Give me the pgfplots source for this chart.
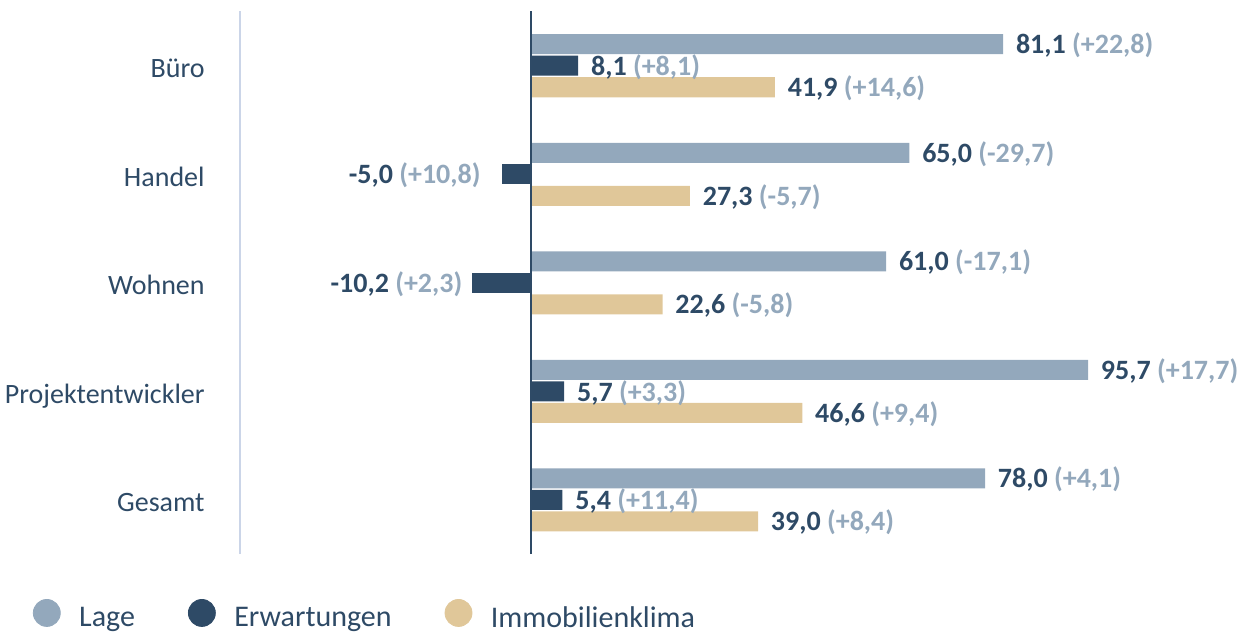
\documentclass[border=0pt]{standalone}
\usepackage{pgfplots}
\pgfplotsset{compat=1.18}
\usepackage{fontspec}
\setmainfont{Carlito}
\definecolor{lageC}{HTML}{93A8BC}
\definecolor{erwC}{HTML}{2E4A66}
\definecolor{immoC}{HTML}{E0C799}
\definecolor{axC}{HTML}{CBD5E8}
\newcommand\lbl[2]{\textbf{#1} {\color{lageC}\textbf{(#2)}}}
\newcommand\fs{\fontsize{14}{16}\selectfont}
\newcommand\fl{\fontsize{15}{17}\selectfont}
\begin{document}
\begin{tikzpicture}[x=1pt,y=1pt]
\useasboundingbox (0,0) rectangle (620,316);
\begin{axis}[
  at={(120pt,39pt)}, anchor=south west,
  scale only axis, width=500pt, height=271.25pt,
  xmin=-50.0, xmax=121.8, ymin=-0.5, ymax=4.5,
  xbar, bar width=10pt, clip=false,
  axis x line=none, axis y line*=left,
  y axis line style={draw=axC, line width=1pt, -},
  ytick={0,1,2,3,4},
  yticklabels={Gesamt, Projektentwickler, Wohnen, Handel, Büro},
  major tick length=0pt,
  yticklabel style={anchor=base east, inner sep=0pt, xshift=-17.5pt, yshift=-6.1pt, font=\fs, text=erwC},
  nodes near coords, point meta=explicit symbolic,
  every node near coord/.append style={anchor=base west, inner sep=0pt, xshift=6.25pt, yshift=-4.8pt, text=erwC, font=\fs},
  legend style={draw=none, fill=none, legend columns=3,
    at={(axis description cs:-0.2075,-0.1118)}, anchor=west, inner sep=0pt,
    nodes={inner sep=0pt, text=erwC, font=\fl},
    /tikz/every odd column/.append style={column sep=9.25pt},
    /tikz/every even column/.append style={column sep=26.5pt}},
]
\addlegendimage{legend image code/.code={\fill[lageC] (6.75pt,2.7pt) circle (6.75pt);}}
\addlegendentry{Lage}
\addlegendimage{legend image code/.code={\fill[erwC] (6.75pt,2.7pt) circle (6.75pt);}}
\addlegendentry{Erwartungen}
\addlegendimage{legend image code/.code={\fill[immoC] (6.75pt,2.7pt) circle (6.75pt);}}
\addlegendentry{Immobilienklima}

\addplot[forget plot, fill=lageC, draw=none, bar shift=10.75pt] coordinates {
 (81.1,4) [\lbl{81,1}{+22,8}]
 (65.0,3) [\lbl{65,0}{-29,7}]
 (61.0,2) [\lbl{61,0}{-17,1}]
 (95.7,1) [\lbl{95,7}{+17,7}]
 (78.0,0) [\lbl{78,0}{+4,1}]
};
\addplot[forget plot, fill=erwC, draw=none, bar shift=0pt,
  every node near coord/.append style={yshift=-0.2pt}] coordinates {
 (8.1,4) [\lbl{8,1}{+8,1}]
 (5.7,1) [\lbl{5,7}{+3,3}]
 (5.4,0) [\lbl{5,4}{+11,4}]
};
\addplot[forget plot, fill=erwC, draw=none, bar shift=0pt,
  every node near coord/.append style={anchor=base east, xshift=-16.75pt}] coordinates {
 (-5.0,3) [\lbl{-5,0}{+10,8}]
};
\addplot[forget plot, fill=erwC, draw=none, bar shift=0pt,
  every node near coord/.append style={anchor=base east, xshift=-10.75pt}] coordinates {
 (-10.2,2) [\lbl{-10,2}{+2,3}]
};
\addplot[forget plot, fill=immoC, draw=none, bar shift=-10.75pt] coordinates {
 (41.9,4) [\lbl{41,9}{+14,6}]
 (27.3,3) [\lbl{27,3}{-5,7}]
 (22.6,2) [\lbl{22,6}{-5,8}]
 (46.6,1) [\lbl{46,6}{+9,4}]
 (39.0,0) [\lbl{39,0}{+8,4}]
};
\draw[erwC, line width=1.2pt] (axis cs:0,-0.5) -- (axis cs:0,4.5);
\end{axis}
\end{tikzpicture}
\end{document}
